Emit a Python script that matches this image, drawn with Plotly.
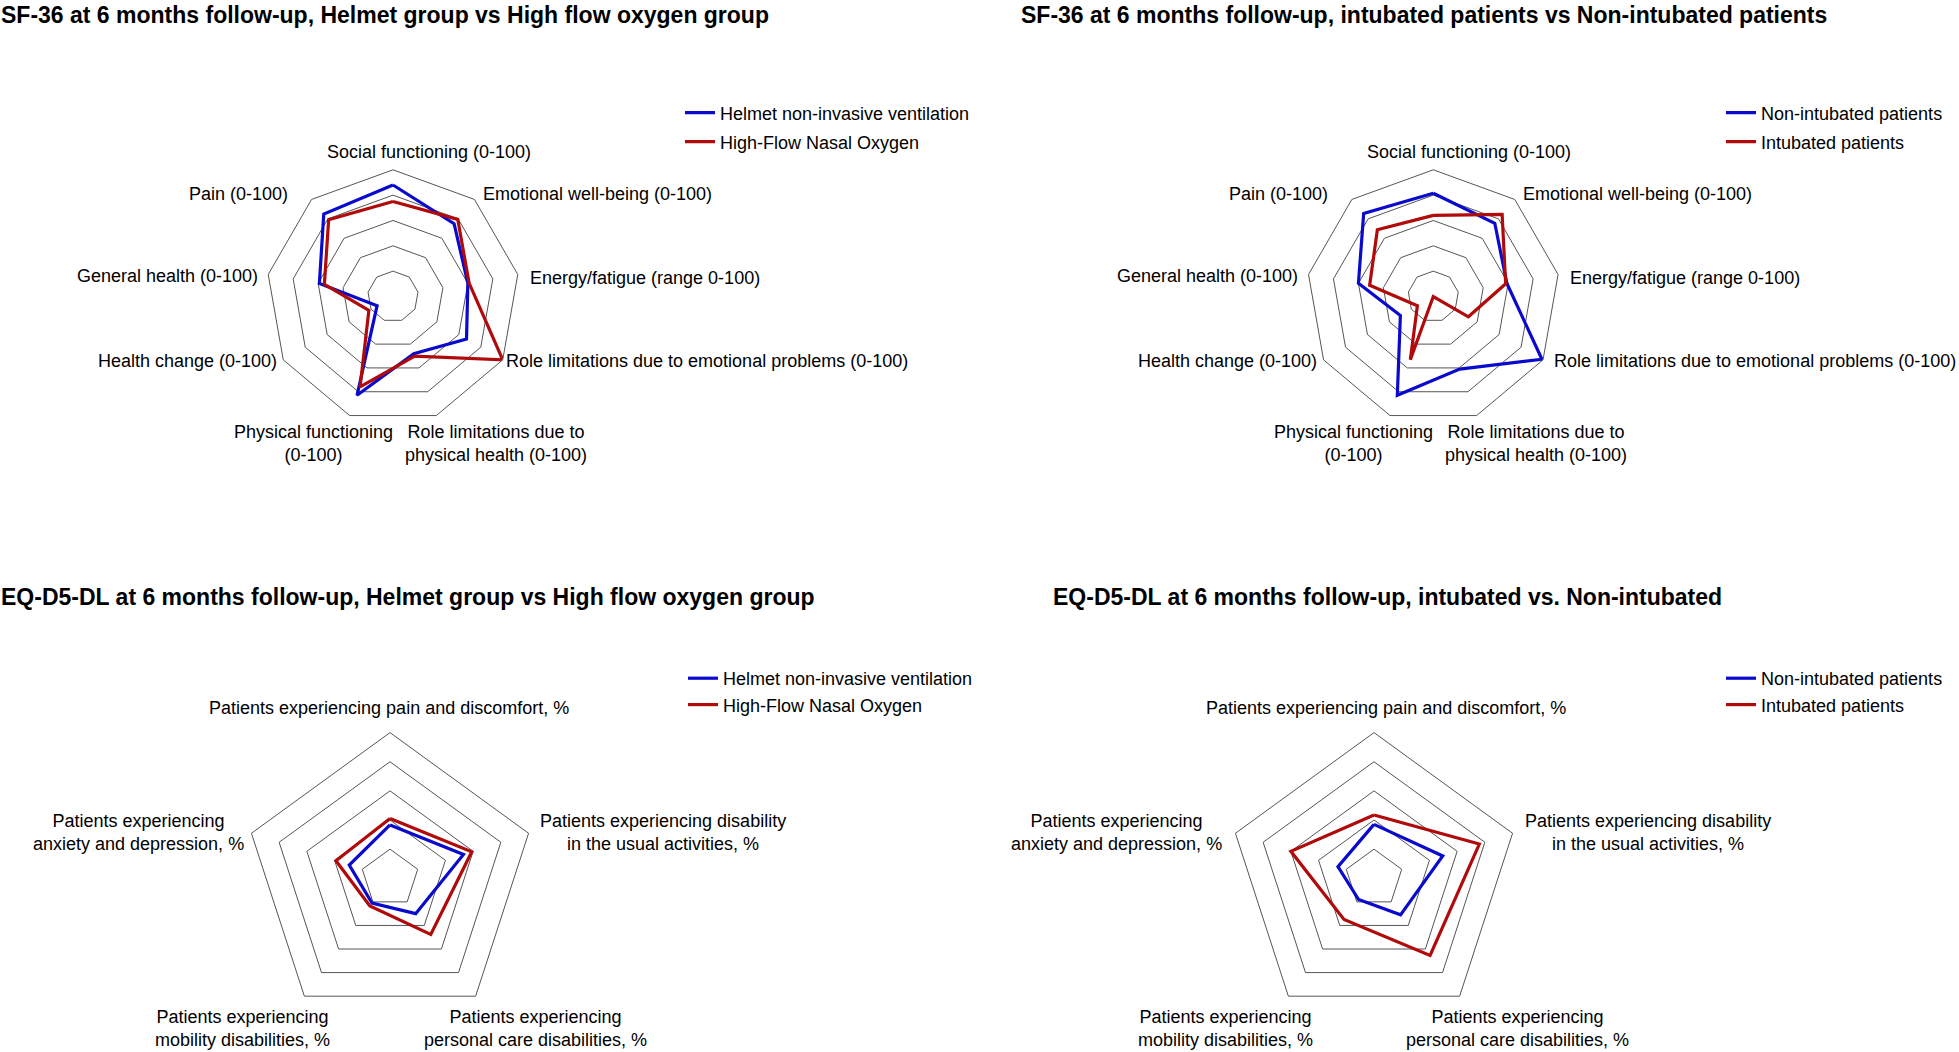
import plotly.graph_objects as go

W, H = 1959, 1052

# ---------------- data ----------------
sf36_axes = [
    "Social functioning (0-100)",
    "Emotional well-being (0-100)",
    "Energy/fatigue (range 0-100)",
    "Role limitations due to emotional problems (0-100)",
    "Role limitations due to<br>physical health (0-100)",
    "Physical functioning<br>(0-100)",
    "Health change (0-100)",
    "General health (0-100)",
    "Pain (0-100)",
]
sf36_helmet = [88, 75, 60, 67, 48, 83, 14.5, 59, 85]
sf36_hfno = [75, 79.5, 61, 100, 50, 76, 22, 55, 79]
sf36_nonintub = [81.5, 75.5, 59, 99, 61, 83, 30, 60, 85.5]
sf36_intub = [64, 84.5, 58, 32, 0, 53, 14.5, 51, 68.7]

eq5d_axes = [
    "Patients experiencing pain and discomfort, %",
    "Patients experiencing disability<br>in the usual activities, %",
    "Patients experiencing<br>personal care disabilities, %",
    "Patients experiencing<br>mobility disabilities, %",
    "Patients experiencing<br>anxiety and depression, %",
]
eq5d_helmet = [36.6, 53, 30, 21, 29.4]
eq5d_hfno = [41, 59, 47.6, 23.5, 39]
eq5d_nonintub = [37, 49.6, 31, 18, 26]
eq5d_intub = [43.5, 76, 65.5, 35, 60]

titles = [
    "SF-36 at 6 months follow-up, Helmet group vs High flow oxygen group",
    "SF-36 at 6 months follow-up, intubated patients vs Non-intubated patients",
    "EQ-D5-DL at 6 months follow-up, Helmet group vs High flow oxygen group",
    "EQ-D5-DL at 6 months follow-up, intubated vs. Non-intubated",
]
names_a = ["Helmet non-invasive ventilation", "High-Flow Nasal Oxygen"]
names_b = ["Non-intubated patients", "Intubated patients"]

BLUE = "#0a0acc"
RED = "#b00a0a"
GRID = "#555555"
FONT = "Arial, Liberation Sans, sans-serif"

# ---------------- layout (pixel positions) ----------------
def dom(cx, cy, r):
    return dict(x=[(cx - r) / W, (cx + r) / W], y=[(H - cy - r) / H, (H - cy + r) / H])

# label placement (x, y, xanchor) in pixels, one per axis, same order as axes
sf36_lab1 = [(429, 152.5, "center"), (481, 194, "left"), (527.5, 277.5, "left"),
             (504, 361, "left"), (496, 443, "center"), (313, 443, "center"),
             (279, 361, "right"), (260, 276, "right"), (290, 194, "right")]
sf36_lab2 = [(x + 1040.3, y, a) for (x, y, a) in sf36_lab1]
sf36_lab2[3] = (1552, 361, "left")
eq_lab1 = [(389.4, 707.5, "center"), (662.5, 832, "center"), (535, 1028, "center"),
           (242.5, 1028, "center"), (138, 832.5, "center")]
eq_lab2 = [(1385.6, 707.5, "center"), (1647.5, 832, "center"), (1517, 1028, "center"),
           (1225.6, 1028, "center"), (1116.7, 832.5, "center")]

panels = [
    dict(cx=393, cy=296.5, r=126.7, axes=sf36_axes, s1=sf36_helmet, s2=sf36_hfno,
         names=names_a, labels=sf36_lab1),
    dict(cx=1433.3, cy=296.5, r=126.7, axes=sf36_axes, s1=sf36_nonintub, s2=sf36_intub,
         names=names_b, labels=sf36_lab2),
    dict(cx=390, cy=878.3, r=145.7, axes=eq5d_axes, s1=eq5d_helmet, s2=eq5d_hfno,
         names=names_a, labels=eq_lab1),
    dict(cx=1374, cy=878.3, r=145.7, axes=eq5d_axes, s1=eq5d_nonintub, s2=eq5d_intub,
         names=names_b, labels=eq_lab2),
]

fig = go.Figure()
layout = dict(
    width=W, height=H, margin=dict(l=0, r=0, t=0, b=0),
    paper_bgcolor="white", plot_bgcolor="white",
    font=dict(family=FONT, size=18, color="black"),
    annotations=[],
)

legend_pos = [(680, 94.5, 2.5), (1721, 94.5, 2.5), (683, 660, 0), (1721, 660, 0)]

for i, p in enumerate(panels):
    pid = "polar" if i == 0 else f"polar{i + 1}"
    lid = "legend" if i == 0 else f"legend{i + 1}"
    theta = p["axes"] + [p["axes"][0]]
    for vals, name, col in [(p["s1"], p["names"][0], BLUE), (p["s2"], p["names"][1], RED)]:
        fig.add_trace(go.Scatterpolar(
            r=vals + [vals[0]], theta=theta, mode="lines", name=name,
            line=dict(color=col, width=3.2), subplot=pid, legend=lid,
            legendgroup=f"{i}-{name}", hoverinfo="skip",
        ))
    layout[pid] = dict(
        domain=dom(p["cx"], p["cy"], p["r"]),
        gridshape="linear", bgcolor="white",
        radialaxis=dict(range=[0, 100], tickvals=[20, 40, 60, 80], showticklabels=False,
                        ticks="", showline=False, gridcolor=GRID, gridwidth=1),
        angularaxis=dict(direction="clockwise", rotation=90, showgrid=False,
                         showline=True, linecolor=GRID, linewidth=1, ticks="",
                         showticklabels=False,
                         categoryorder="array", categoryarray=p["axes"]),
    )
    # axis category labels
    for txt, (lx, ly, anc) in zip(p["axes"], p["labels"]):
        layout["annotations"].append(dict(
            text=txt, x=lx / W, y=1 - ly / H, xref="paper", yref="paper",
            xanchor=anc, yanchor="middle", align="center", showarrow=False,
            font=dict(family=FONT, size=18, color="black"),
        ))
    lx, ly, gap = legend_pos[i]
    layout[lid] = dict(x=lx / W, y=1 - ly / H, xanchor="left", yanchor="top",
                       font=dict(family=FONT, size=18, color="black"),
                       bgcolor="rgba(0,0,0,0)", traceorder="grouped",
                       tracegroupgap=gap, itemwidth=30)

title_pos = [(-1, 15), (1019, 15), (-1, 597), (1051, 597)]
for t, (x, y) in zip(titles, title_pos):
    layout["annotations"].append(dict(
        text=f"<b>{t}</b>", x=x / W, y=1 - y / H, xref="paper", yref="paper",
        xanchor="left", yanchor="middle", showarrow=False,
        font=dict(family=FONT, size=23, color="black"),
    ))

fig.update_layout(**layout)
fig.write_html("out.html", config={"displayModeBar": False},
               post_script="document.body.style.margin='0';")
